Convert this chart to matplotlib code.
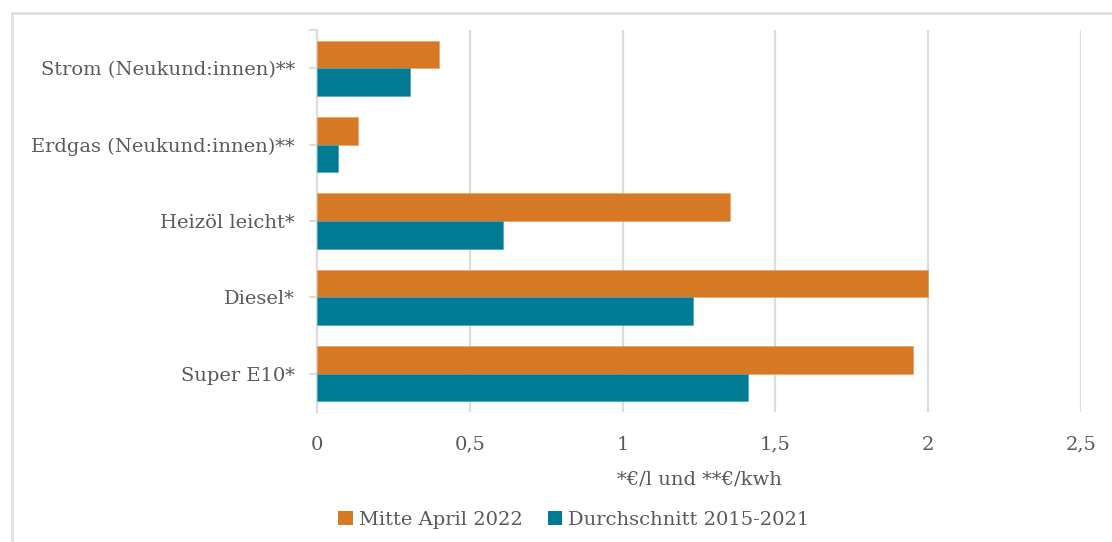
import matplotlib
matplotlib.use("Agg")
import matplotlib.pyplot as plt
from matplotlib.lines import Line2D
from matplotlib.patches import Patch
import numpy as np

categories = ["Strom (Neukund:innen)**", "Erdgas (Neukund:innen)**", "Heizöl leicht*", "Diesel*", "Super E10*"]
april_2022 = [0.40, 0.135, 1.35, 2.00, 1.95]
avg_2015_2021 = [0.305, 0.068, 0.61, 1.23, 1.41]
series_labels = ["Mitte April 2022", "Durchschnitt 2015-2021"]
xticks = [0, 0.5, 1, 1.5, 2, 2.5]
xtick_labels = ["0", "0,5", "1", "1,5", "2", "2,5"]
xlabel = "*€/l und **€/kwh"

ORANGE = "#D67824"
TEAL = "#007B93"
GRID = "#DCDCE0"
TXT = "#595959"
FONT = "DejaVu Serif"
FS = 14

W, H = 1112, 542
fig = plt.figure(figsize=(W / 100, H / 100), dpi=100)
ax = fig.add_axes([317 / W, 1 - 412 / H, (1081 - 317) / W, (412 - 30) / H])

y = np.arange(len(categories))
h = 0.36
ax.barh(y - h / 2, april_2022, height=h, color=ORANGE, edgecolor="#E8A063", linewidth=0.4, zorder=3)
ax.barh(y + h / 2, avg_2015_2021, height=h, color=TEAL, edgecolor="#3FA3B5", linewidth=0.4, zorder=3)

ax.set_xlim(0, 2.5)
ax.set_ylim(len(categories) - 0.5, -0.5)
ax.set_xticks(xticks)
ax.set_xticklabels(xtick_labels, fontsize=FS, color=TXT, family=FONT)
ax.set_yticks(y)
ax.set_yticklabels(categories, fontsize=FS, color=TXT, family=FONT)
ax.set_yticks([-0.5], minor=True)
ax.tick_params(axis="x", length=0, pad=17)
ax.tick_params(axis="y", which="both", length=6, width=1.5, color=GRID, pad=10)

for xv in xticks[1:]:
    ax.axvline(xv, color=GRID, lw=1.6, zorder=1)
for s in ["top", "right", "bottom"]:
    ax.spines[s].set_visible(False)
ax.spines["left"].set_color(GRID)
ax.spines["left"].set_linewidth(1.6)

fig.text(699 / W, 1 - 479 / H, xlabel, ha="center", va="center", fontsize=FS, color=TXT, family=FONT)

handles = [Patch(facecolor=ORANGE), Patch(facecolor=TEAL)]
fig.legend(handles, series_labels, loc="center", bbox_to_anchor=(574 / W, 1 - 520 / H), ncol=2,
           frameon=False, handlelength=0.75, handleheight=0.75, handletextpad=0.3, columnspacing=1.3,
           prop={"family": FONT, "size": FS}, labelcolor=TXT)

fig.add_artist(Line2D([12 / W, 1], [1 - 13 / H, 1 - 13 / H], transform=fig.transFigure, color="#E0E0E0", lw=2))
fig.add_artist(Line2D([12 / W, 12 / W], [1 - 13 / H, 0], transform=fig.transFigure, color="#E0E0E0", lw=2))

fig.savefig("out.png", dpi=100)
